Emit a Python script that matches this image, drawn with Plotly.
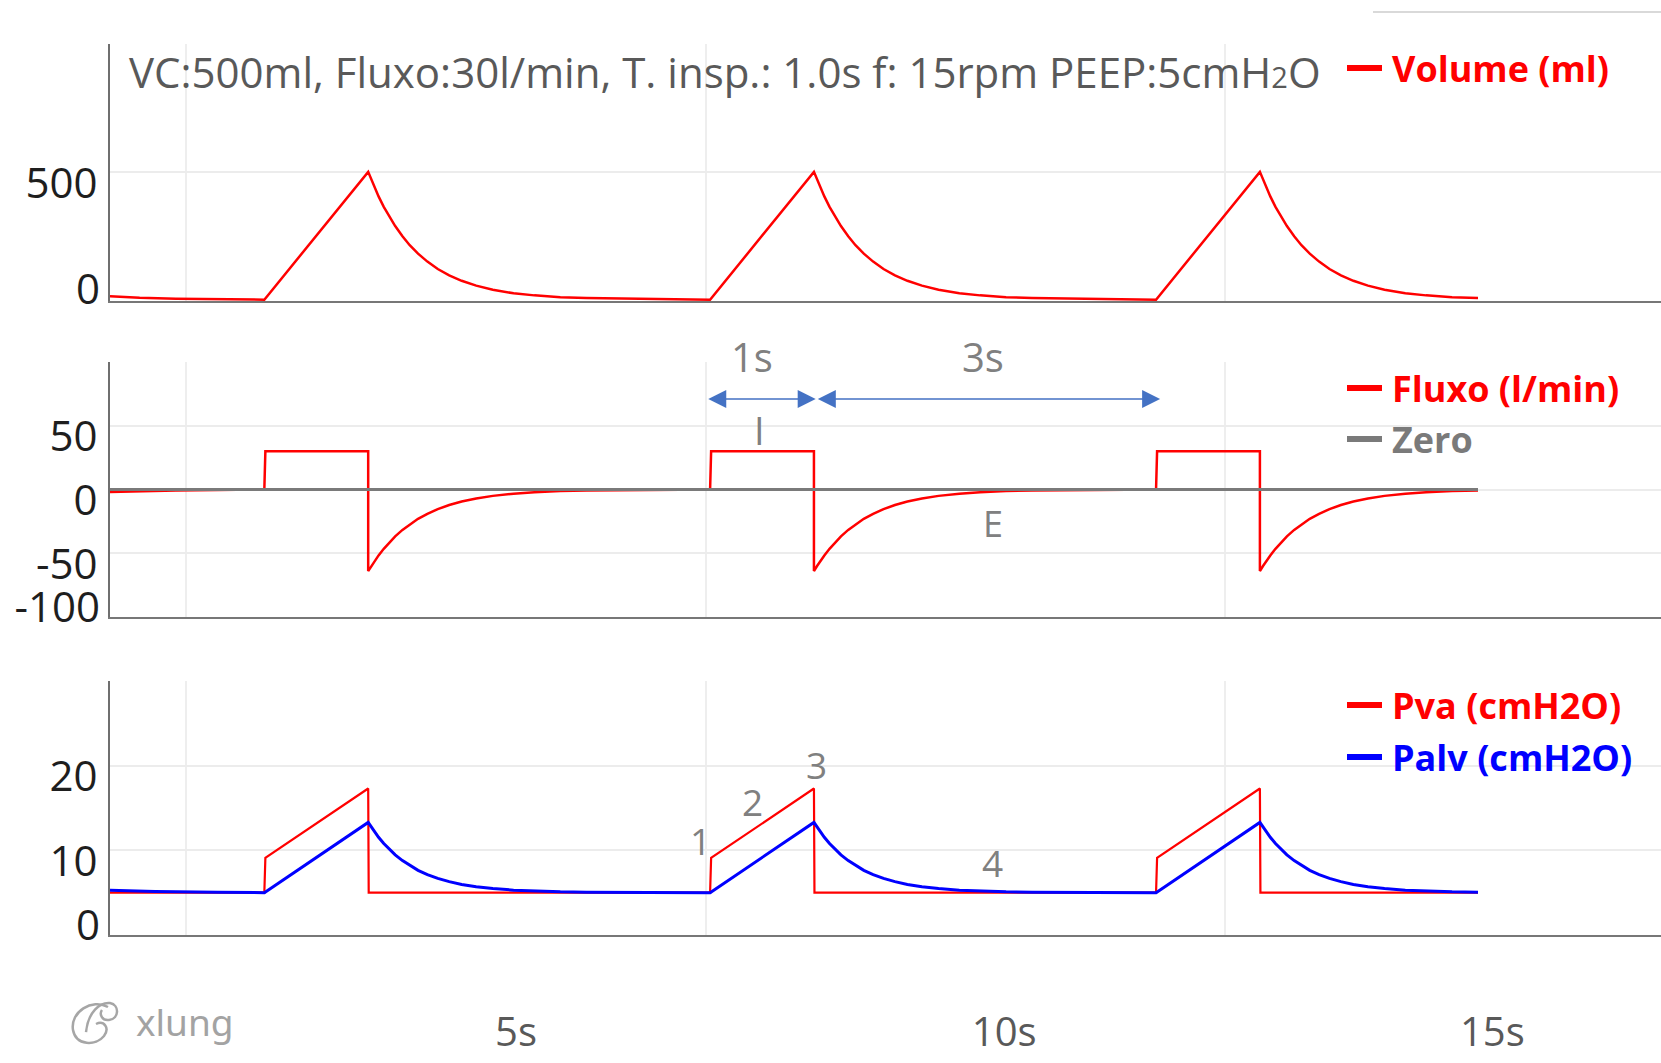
import plotly.graph_objects as go

W, H = 1661, 1063
ML = 110  # left margin (px)

# ---------------- data ----------------
# breath start times (s) and plotted window
breath_starts = [0.751, 5.043, 9.337]
t_first = -0.735
t_last = 12.437
t_right = 14.199

# Volume (ml): tail before the first breath, then one breath (offsets from its start)
vol_pre_t = [-0.735, -0.45, -0.10, 0.30]
vol_pre_v = [14, 8, 4, 1.5]
vol_dt = [0, 1.0, 1.03, 1.06, 1.10, 1.15, 1.20, 1.26, 1.33, 1.40, 1.48, 1.57,
          1.67, 1.78, 1.90, 2.04, 2.20, 2.40, 2.60, 2.85, 3.10]
vol_v = [0, 500, 469, 440, 404, 363, 327, 288, 248, 213, 180, 149,
         120, 95, 74, 55, 39, 25, 17, 10, 7]

# Flow (l/min)
flow_pre_t = [-0.735, -0.45, -0.10, 0.30]
flow_pre_v = [-2, -1.3, -0.7, -0.3]
flow_dt = [0, 0.01, 1.0, 1.0, 1.03, 1.06, 1.10, 1.15, 1.20, 1.26, 1.33, 1.40, 1.48,
           1.57, 1.67, 1.78, 1.90, 2.04, 2.20, 2.40, 2.60, 2.85, 3.10]
flow_v = [0, 30, 30, -64, -60, -56.3, -51.7, -46.5, -41.9, -36.8, -31.7, -27.3, -23,
          -19.1, -15.4, -12.2, -9.4, -7, -5, -3.3, -2.1, -1.2, -0.8]

# Zero reference for the flow panel
zero_t = [t_first, t_last]
zero_v = [0, 0]

# Airway pressure Pva (cmH2O)
pva_pre_t = [-0.735]
pva_pre_v = [5]
pva_dt = [0, 0.01, 1.0, 1.005, 3.10]
pva_v = [5, 9.1, 17.3, 5, 5]

# Alveolar pressure Palv (cmH2O)
palv_pre_t = [-0.735, -0.30, 0.30]
palv_pre_v = [5.3, 5.15, 5.05]
palv_dt = [0, 1.0, 1.03, 1.06, 1.10, 1.15, 1.20, 1.26, 1.33, 1.40, 1.48, 1.57,
           1.67, 1.78, 1.90, 2.04, 2.20, 2.40, 2.60, 2.85, 3.10]
palv_v = [5, 13.3, 12.73, 12.19, 11.54, 10.81, 10.15, 9.46, 8.79, 8.21, 7.64, 7.14,
          6.68, 6.30, 5.97, 5.70, 5.48, 5.30, 5.18, 5.10, 5.06]

# axis ticks
vol_ticks, vol_text = [500], ["500"]
vol_ticks_low, vol_text_low = [0], ["0"]
flow_ticks, flow_text = [50, 0, -50], ["50", "0", "-50"]
flow_ticks_low, flow_text_low = [-100], ["-100"]
pres_ticks, pres_text = [20, 10], ["20", "10"]
pres_ticks_low, pres_text_low = [0], ["0"]
time_tickvals = [5, 10, 15]
time_ticktext = ["5s", "10s", "15s"]


def series(pre_t, pre_v, dt, v):
    xs, ys = list(pre_t), list(pre_v)
    for t0 in breath_starts:
        xs += [t0 + d for d in dt]
        ys += list(v)
    return xs, ys


def px(x):
    return (x - ML) / (W - ML)


def py(y):
    return 1 - y / H


RED = "#ff0000"
BLUE = "#0000ff"
GRAY = "#7a7a7a"
TXT = "#808080"
FONT = "Open Sans"

fig = go.Figure()

vx, vy = series(vol_pre_t, vol_pre_v, vol_dt, vol_v)
fig.add_trace(go.Scatter(x=vx, y=vy, mode="lines", line=dict(color=RED, width=2.5),
                         name="Volume (ml)", xaxis="x", yaxis="y", showlegend=False))

fx, fy = series(flow_pre_t, flow_pre_v, flow_dt, flow_v)
fig.add_trace(go.Scatter(x=fx, y=fy, mode="lines", line=dict(color=RED, width=2.5),
                         name="Fluxo (l/min)", xaxis="x2", yaxis="y2", showlegend=False))
fig.add_trace(go.Scatter(x=zero_t, y=zero_v, mode="lines", line=dict(color=GRAY, width=3),
                         name="Zero", xaxis="x2", yaxis="y2", showlegend=False))

px_, py_ = series(pva_pre_t, pva_pre_v, pva_dt, pva_v)
fig.add_trace(go.Scatter(x=px_, y=py_, mode="lines", line=dict(color=RED, width=2.2),
                         name="Pva (cmH2O)", xaxis="x3", yaxis="y3", showlegend=False))
ax_, ay_ = series(palv_pre_t, palv_pre_v, palv_dt, palv_v)
fig.add_trace(go.Scatter(x=ax_, y=ay_, mode="lines", line=dict(color=BLUE, width=3),
                         name="Palv (cmH2O)", xaxis="x3", yaxis="y3", showlegend=False))

# empty traces so the overlay axes get drawn
for xa, ya in [("x", "y4"), ("x2", "y5"), ("x3", "y6"), ("x4", "y3")]:
    fig.add_trace(go.Scatter(x=[None], y=[None], xaxis=xa, yaxis=ya,
                             showlegend=False, hoverinfo="skip"))

tickfont = dict(family=FONT, size=42, color="#1e1e1e")


def xax(anchor):
    return dict(anchor=anchor, domain=[0, 1], range=[t_first, t_right], showline=True,
                linecolor="#777777", linewidth=2, showgrid=True, gridcolor="#eeeeee",
                gridwidth=1.5, tick0=0, dtick=5, showticklabels=False, zeroline=False,
                ticks="", layer="below traces", fixedrange=True, automargin=False)


def yax(anchor, domain, rng, tickvals, ticktext):
    return dict(anchor=anchor, domain=domain, range=rng, tickvals=tickvals,
                ticktext=ticktext, showline=True, linecolor="#6f6f6f", linewidth=2,
                showgrid=True, gridcolor="#ececec", gridwidth=1.5, zeroline=False,
                ticks="", tickfont=tickfont, ticklabelshift=11, ticklabelstandoff=2,
                layer="below traces", fixedrange=True, automargin=False)


def yover(over, anchor, rng, tickvals, ticktext):
    return dict(overlaying=over, anchor=anchor, side="left", range=rng,
                tickvals=tickvals, ticktext=ticktext, showline=False, showgrid=False,
                zeroline=False, ticks="", tickfont=tickfont, ticklabelshift=-10,
                ticklabelstandoff=9, fixedrange=True, automargin=False)


dom_top = [py(301), py(44)]
dom_mid = [py(617), py(362)]
dom_bot = [py(935), py(681)]
rng_top = [-5, 1000]
rng_mid = [-100, 100]
rng_bot = [0, 30]

fig.update_layout(
    width=W, height=H, autosize=False,
    margin=dict(l=ML, r=0, t=0, b=0, autoexpand=False),
    paper_bgcolor="white", plot_bgcolor="white",
    showlegend=False,
    xaxis=xax("y"), xaxis2=xax("y2"), xaxis3=xax("y3"),
    yaxis=yax("x", dom_top, rng_top, vol_ticks, vol_text),
    yaxis2=yax("x2", dom_mid, rng_mid, flow_ticks, flow_text),
    yaxis3=yax("x3", dom_bot, rng_bot, pres_ticks, pres_text),
    yaxis4=yover("y", "x", rng_top, vol_ticks_low, vol_text_low),
    yaxis5=yover("y2", "x2", rng_mid, flow_ticks_low, flow_text_low),
    yaxis6=yover("y3", "x3", rng_bot, pres_ticks_low, pres_text_low),
    xaxis4=dict(overlaying="x3", anchor="free", position=py(1005),
                range=[0.842, 16.727], tickvals=time_tickvals, ticktext=time_ticktext,
                showline=False, showgrid=False, zeroline=False, ticks="",
                tickfont=dict(family=FONT, size=40, color="#595959"), fixedrange=True,
                automargin=False),
)

ann = []
# heading with the ventilator settings
ann.append(dict(xref="paper", yref="paper", x=px(127), y=py(72), xanchor="left",
                yanchor="middle", showarrow=False,
                text="VC:500ml, Fluxo:30l/min, T. insp.: 1.0s f: 15rpm PEEP:5cmH"
                     "<span style='font-size:29px'>2</span>O",
                font=dict(family=FONT, size=42, color="#595959")))

# legend entries: (text, colour, centre y in px)
legend_items = [("Volume (ml)", RED, 68), ("Fluxo (l/min)", RED, 388),
                ("Zero", GRAY, 439), ("Pva (cmH2O)", RED, 705), ("Palv (cmH2O)", BLUE, 757)]
shapes = []
for label, col, yc in legend_items:
    ann.append(dict(xref="paper", yref="paper", x=px(1390), y=py(yc), xanchor="left",
                    yanchor="middle", showarrow=False, text="<b>%s</b>" % label,
                    font=dict(family=FONT, size=36, color=col)))
    shapes.append(dict(type="line", xref="paper", yref="paper", x0=px(1347), x1=px(1382),
                       y0=py(yc), y1=py(yc), line=dict(color=col, width=6)))

# inspiratory / expiratory time arrows on the flow panel
ARROW = "#4472c4"
for xa, xb in [(5.011, 6.060), (6.066, 9.376)]:
    ann.append(dict(xref="x2", yref="y2", x=xb, y=71, axref="x2", ayref="y2", ax=xa, ay=71,
                    text="", showarrow=True, arrowside="end+start", arrowhead=2,
                    startarrowhead=2, arrowsize=2.4, startarrowsize=2.4, arrowwidth=1.5,
                    arrowcolor=ARROW))

# duration labels above the arrows
for txt, x in [("1s", 5.447), ("3s", 7.672)]:
    ann.append(dict(xref="x2", yref="paper", x=x, y=py(356), text=txt, showarrow=False,
                    xanchor="center", yanchor="middle",
                    font=dict(family=FONT, size=40, color=TXT)))

marks = [("I", "x2", "y2", 5.515, 46.7, 38), ("E", "x2", "y2", 7.768, -26.3, 36),
         ("1", "x3", "y3", 4.947, 11.2, 37), ("2", "x3", "y3", 5.452, 15.8, 37),
         ("3", "x3", "y3", 6.064, 20.1, 37), ("4", "x3", "y3", 7.765, 8.6, 37)]
for txt, xr, yr, x, y, s in marks:
    ann.append(dict(xref=xr, yref=yr, x=x, y=y, text=txt, showarrow=False,
                    xanchor="center", yanchor="middle",
                    font=dict(family=FONT, size=s, color=TXT)))

# xlung brand mark
ann.append(dict(xref="paper", yref="paper", x=px(134), y=py(1021), xanchor="left",
                yanchor="middle", showarrow=False, text="xlung",
                font=dict(family="Noto Sans", size=37, color="#a3a3a3")))


def path(pts):
    out = []
    for cmd, coords in pts:
        out.append(cmd + " ".join("%.5f,%.5f" % (px(a), py(b)) for a, b in coords))
    return " ".join(out)


# two interlaced loops of the logo glyph
logo1 = path([("M", [(108, 1007)]), ("C", [(92, 998), (70, 1012), (73, 1030)]),
              ("C", [(76, 1046), (96, 1046), (104, 1036)]),
              ("C", [(110, 1028), (104, 1020), (96, 1024)])])
logo2 = path([("M", [(86, 1032)]), ("C", [(88, 1012), (100, 1002), (110, 1003)]),
              ("C", [(120, 1005), (119, 1019), (109, 1020)]),
              ("C", [(102, 1021), (99, 1014), (102, 1010)])])
for p in (logo1, logo2):
    shapes.append(dict(type="path", xref="paper", yref="paper", path=p,
                       line=dict(color="#a6a6a6", width=2.5)))

# thin rule at the top right
shapes.append(dict(type="line", xref="paper", yref="paper", x0=px(1373), x1=1.0,
                   y0=py(12), y1=py(12), line=dict(color="#cccccc", width=1.5)))

fig.update_layout(annotations=ann, shapes=shapes)
fig.write_html("out.html", config={"displayModeBar": False})
